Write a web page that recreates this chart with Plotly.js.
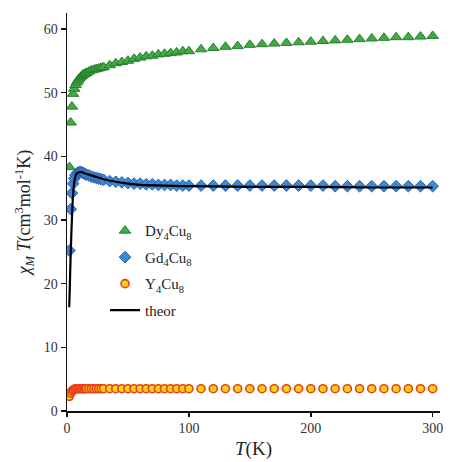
<!DOCTYPE html>
<html>
<head>
<meta charset="utf-8">
<script src="https://cdn.plot.ly/plotly-3.0.1.min.js"></script>
<style>html,body{margin:0;padding:0;background:#fff;}#chart{width:450px;height:462px;}</style>
</head>
<body>
<div id="chart"></div>
<script>
// Temperature grid (K)
const T = [2,3,4,5,6,7,8,9,10,11,12,13,14,15,16,18,20,22,24,26,28,30,
  35,40,45,50,55,60,65,70,75,80,85,90,95,100,
  110,120,130,140,150,160,170,180,190,200,210,220,230,240,250,260,270,280,290,300];

// Dy4Cu8 chi_M T
const dy = [38.3,45.3,47.8,49.8,50.6,51.2,51.6,51.9,52.2,52.4,52.6,52.8,52.9,53.0,53.1,53.3,53.5,53.6,53.7,53.8,53.9,54.0,
  54.3,54.6,54.8,55.0,55.3,55.5,55.7,55.8,56.0,56.1,56.2,56.3,56.5,56.5,
  56.8,57.0,57.2,57.3,57.5,57.6,57.7,57.8,57.9,58.0,58.1,58.2,58.3,58.4,58.5,58.6,58.7,58.7,58.8,58.9];

// Gd4Cu8 chi_M T
const gd = [25.2,31.7,34.2,35.7,36.5,37.0,37.3,37.4,37.5,37.5,37.5,37.4,37.3,37.2,37.1,37.0,36.8,36.7,36.6,36.5,36.4,36.3,
  36.1,36.0,35.9,35.8,35.7,35.7,35.6,35.6,35.5,35.5,35.5,35.4,35.4,35.4,
  35.4,35.4,35.4,35.4,35.4,35.4,35.4,35.4,35.4,35.4,35.4,35.3,35.3,35.3,35.3,35.3,35.3,35.3,35.3,35.3];

// Y4Cu8 chi_M T
const yc = [2.3,2.8,3.1,3.3,3.4,3.5,3.5,3.5,3.5,3.5,3.5,3.5,3.5,3.5,3.5,3.5,3.5,3.5,3.5,3.5,3.5,3.5,
  3.5,3.5,3.5,3.5,3.5,3.5,3.5,3.5,3.5,3.5,3.5,3.5,3.5,3.5,
  3.5,3.5,3.5,3.5,3.5,3.5,3.5,3.5,3.5,3.5,3.5,3.5,3.5,3.5,3.5,3.5,3.5,3.5,3.5,3.5];

// Theoretical fit
const thT = [1.8,2,2.5,3,3.5,4,5,6,7,8,10,12,15,20,25,30,40,50,60,80,100,150,200,250,300];
const thV = [16.3,17.5,21,24.5,27.5,30,34,36,36.9,37.3,37.5,37.5,37.3,37.0,36.7,36.4,36.0,35.7,35.5,35.4,35.3,35.2,35.2,35.1,35.1];

const serif = "'Liberation Serif', 'Times New Roman', serif";

const traces = [
  {x:T, y:dy, type:'scatter', mode:'markers', name:'Dy<sub>4</sub>Cu<sub>8</sub>', legendgroup:'a',
   marker:{symbol:'triangle-up', size:10, color:'#45a845', line:{color:'#23802a', width:1}}},
  {x:T, y:gd, type:'scatter', mode:'markers', name:'Gd<sub>4</sub>Cu<sub>8</sub>', legendgroup:'b',
   marker:{symbol:'diamond', size:9, color:'#3a8ad4', line:{color:'#2a5ea8', width:1}}},
  {x:T, y:yc, type:'scatter', mode:'markers', name:'Y<sub>4</sub>Cu<sub>8</sub>', legendgroup:'c',
   marker:{symbol:'circle', size:8, color:'#fcd116', line:{color:'#e8401c', width:1.6}}},
  {x:thT, y:thV, type:'scatter', mode:'lines', name:'theor', legendgroup:'d',
   line:{color:'#000', width:2.2, shape:'spline'}}
];

const layout = {
  width:450, height:462,
  margin:{l:67, r:10, t:13, b:51},
  paper_bgcolor:'#fff', plot_bgcolor:'#fff',
  font:{family:serif, size:14, color:'#222'},
  showlegend:true,
  legend:{x:0.102, y:0.494, xanchor:'left', yanchor:'top', bgcolor:'rgba(0,0,0,0)',
          font:{family:serif, size:15, color:'#222'}, traceorder:'grouped', tracegroupgap:4, itemwidth:30},
  xaxis:{range:[0,306], showgrid:false, zeroline:false, showline:true, linecolor:'#111', linewidth:1.5,
         ticks:'outside', ticklen:4, tickcolor:'#111', tickwidth:1.5, tickvals:[0,100,200,300],
         tickfont:{family:serif, size:14, color:'#333'},
         title:{text:'<i>T</i>(K)', font:{family:serif, size:19, color:'#222'}, standoff:6}},
  yaxis:{range:[0,62.5], showgrid:false, zeroline:false, showline:true, linecolor:'#111', linewidth:1.5,
         ticks:'outside', ticklen:5, tickcolor:'#111', tickwidth:1.5, tickvals:[0,10,20,30,40,50,60],
         tickfont:{family:serif, size:14, color:'#333'},
         title:{text:'<i>χ<sub>M</sub> T</i>(cm<sup>3</sup>mol<sup>-1</sup>K)', font:{family:serif, size:18, color:'#222'}, standoff:8}}
};

Plotly.newPlot('chart', traces, layout, {displayModeBar:false, staticPlot:true});
</script>
</body>
</html>
